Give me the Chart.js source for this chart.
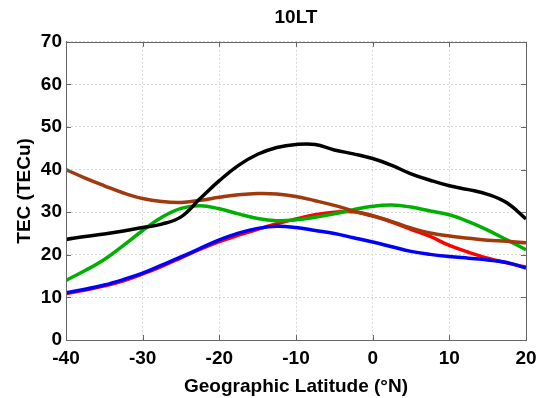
<!DOCTYPE html>
<html>
<head>
<meta charset="utf-8">
<script src="https://cdn.jsdelivr.net/npm/chart.js@4/dist/chart.umd.min.js"></script>
<style>
html,body{margin:0;padding:0;background:#fff;}
#c{display:block;}
</style>
</head>
<body>
<canvas id="c" width="537" height="398"></canvas>
<script>
const latitudes = [-40,-37.5,-35,-32.5,-30,-27.5,-25,-22.5,-20,-17.5,-15,-12.5,-10,-7.5,-5,-2.5,0,2.5,5,7.5,10,12.5,15,17.5,20];
const blackSeries = [23.6,24.3,24.9,25.6,26.4,27.2,28.9,33.2,37.4,41.0,43.6,45.2,45.9,45.9,44.6,43.7,42.6,41.0,39.0,37.5,36.2,35.3,34.2,32.2,28.4];
const brownSeries = [40.0,38.0,36.2,34.5,33.2,32.5,32.3,32.8,33.5,34.1,34.4,34.3,33.7,32.7,31.6,30.3,29.1,27.8,26.3,25.1,24.4,23.9,23.4,23.2,22.8];
const greenSeries = [14.0,16.3,18.9,22.2,25.7,28.8,30.9,31.5,30.8,29.6,28.5,28.0,28.2,28.8,29.6,30.6,31.4,31.7,31.2,30.3,29.4,27.8,25.8,23.5,21.2];
const blueSeries  = [11.1,11.9,12.9,14.2,15.7,17.6,19.5,21.5,23.5,25.1,26.2,26.7,26.4,25.7,25.0,24.0,23.0,21.9,20.8,20.1,19.6,19.2,18.8,18.2,16.9];
const redSeries   = [10.9,11.7,12.7,13.9,15.5,17.3,19.3,21.3,23.1,24.6,26.0,27.3,28.4,29.4,30.0,30.1,29.2,27.7,26.0,24.3,22.2,20.6,19.2,18.1,17.1];
const xTicks = [-40,-30,-20,-10,0,10,20];
const yTicks = [0,10,20,30,40,50,60,70];
const titleText = '10LT';
const xTitle = 'Geographic Latitude (°N)';
const yTitle = 'TEC (TECu)';

const toPts = arr => arr.map((v,i)=>({x: latitudes[i], y: v}));
const FONT = "'Liberation Sans', Arial, sans-serif";

const series = [
  {data: blackSeries, color: '#000000'},
  {data: brownSeries, color: '#a03a0c'},
  {data: greenSeries, color: '#00b000'},
  {data: blueSeries,  color: '#0000ff'},
  {data: redSeries,   color: '#ff0000'}
];

const boxPlugin = {
  id: 'boxTicks',
  afterDraw(chart){
    const {ctx, chartArea: a, scales} = chart;
    ctx.save();
    ctx.strokeStyle = '#666666';
    ctx.lineWidth = 1;
    ctx.strokeRect(Math.round(a.left)+0.5, Math.round(a.top)+0.5, Math.round(a.right-a.left), Math.round(a.bottom-a.top));
    const L = 5;
    ctx.beginPath();
    xTicks.forEach(t=>{
      const px = Math.round(scales.x.getPixelForValue(t))+0.5;
      ctx.moveTo(px, a.bottom); ctx.lineTo(px, a.bottom-L);
      ctx.moveTo(px, a.top); ctx.lineTo(px, a.top+L);
    });
    yTicks.forEach(t=>{
      const py = Math.round(scales.y.getPixelForValue(t))+0.5;
      ctx.moveTo(a.left, py); ctx.lineTo(a.left+L, py);
      ctx.moveTo(a.right, py); ctx.lineTo(a.right-L, py);
    });
    ctx.stroke();
    ctx.restore();
  }
};

new Chart(document.getElementById('c'), {
  type: 'line',
  data: {
    datasets: series.map(s=>({
      data: toPts(s.data),
      borderColor: s.color,
      backgroundColor: s.color,
      borderWidth: 3.5,
      pointRadius: 0,
      tension: 0.4,
      fill: false
    }))
  },
  options: {
    responsive: false,
    devicePixelRatio: 1,
    animation: false,
    layout: {padding: {left: 0, right: 0, top: 0, bottom: 0}},
    plugins: {
      legend: {display: false},
      tooltip: {enabled: false},
      title: {
        display: true,
        text: titleText,
        fullSize: false,
        color: '#000',
        font: {family: FONT, size: 19, weight: 'bold', lineHeight: 1.2},
        padding: {top: 6, bottom: 13}
      }
    },
    scales: {
      x: {
        type: 'linear',
        min: -40, max: 20,
        afterBuildTicks: s => { s.ticks = xTicks.map(v=>({value: v})); },
        afterFit: s => { s.height = 58; s.paddingRight = 11; },
        grid: {color: '#d9d9d9', lineWidth: 1, drawTicks: false},
        border: {display: true, color: '#666666', width: 1, dash: [2,2]},
        ticks: {color: '#000', padding: 7, font: {family: FONT, size: 19, weight: 'bold'}, maxRotation: 0},
        title: {display: true, text: xTitle, color: '#000', font: {family: FONT, size: 19, weight: 'bold', lineHeight: 1.2}, padding: {top: 0, bottom: 0}}
      },
      y: {
        type: 'linear',
        min: 0, max: 70,
        afterBuildTicks: s => { s.ticks = yTicks.map(v=>({value: v})); },
        afterFit: s => { s.width = 66; },
        grid: {color: '#d9d9d9', lineWidth: 1, drawTicks: false},
        border: {display: true, color: '#666666', width: 1, dash: [2,2]},
        ticks: {color: '#000', padding: 4, font: {family: FONT, size: 19, weight: 'bold'}},
        title: {display: true, text: yTitle, color: '#000', font: {family: FONT, size: 19, weight: 'bold', lineHeight: 1.2}, padding: {top: 13, bottom: 0}}
      }
    }
  },
  plugins: [boxPlugin]
});
</script>
</body>
</html>
